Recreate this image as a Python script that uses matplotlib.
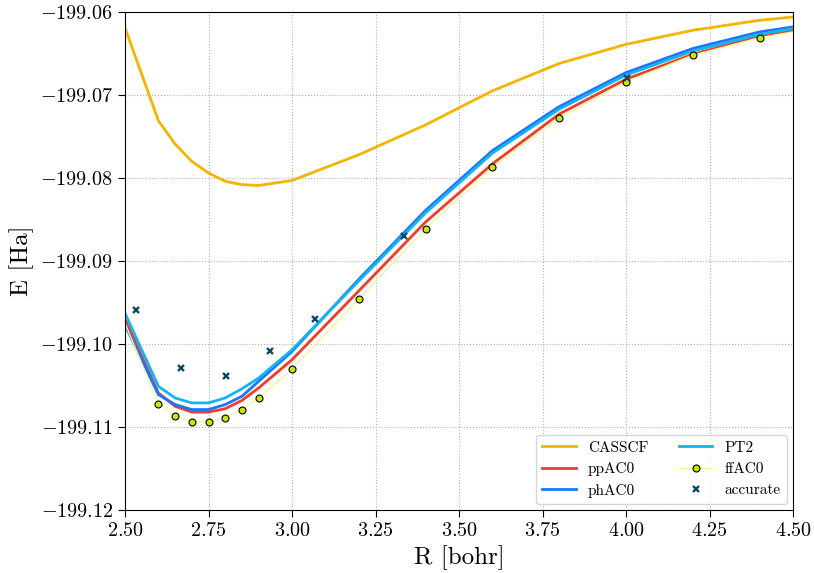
import numpy as np
import matplotlib
matplotlib.use("Agg")
import matplotlib.pyplot as plt

plt.rcParams['font.family'] = 'serif'
plt.rcParams['font.serif'] = ['cmr10']
plt.rcParams['mathtext.fontset'] = 'cm'
plt.rcParams['axes.formatter.use_mathtext'] = True

## bond lengths [bohr]
R = [2.5, 2.6, 2.65, 2.7, 2.75, 2.8, 2.85, 2.9, 3.0, 3.2, 3.4, 3.6, 3.8, 4.0, 4.2, 4.4, 4.5]

casscf = [-199.0619, -199.0731, -199.0759, -199.0780, -199.0794, -199.0804, -199.0808, -199.0809,
          -199.0803, -199.0772, -199.0736, -199.0695, -199.0662, -199.0639, -199.0622, -199.0610, -199.0606]
ppac0 = [-199.0970, -199.1059, -199.1075, -199.1082, -199.1082, -199.1078, -199.1068, -199.1053,
         -199.1019, -199.0936, -199.0853, -199.0783, -199.0723, -199.0681, -199.0651, -199.0629, -199.0622]
phac0 = [-199.0977, -199.1061, -199.1073, -199.1079, -199.1079, -199.1073, -199.1063, -199.1045,
         -199.1009, -199.0922, -199.0839, -199.0767, -199.0714, -199.0673, -199.0644, -199.0624, -199.0618]
pt2 = [-199.0963, -199.1051, -199.1065, -199.1071, -199.1071, -199.1065, -199.1054, -199.1041,
       -199.1007, -199.0924, -199.0842, -199.0770, -199.0717, -199.0676, -199.0647, -199.0627, -199.0620]
ffac0 = [-199.0975, -199.1072, -199.1087, -199.1094, -199.1094, -199.1089, -199.1079, -199.1065,
         -199.1030, -199.0946, -199.0861, -199.0787, -199.0728, -199.0684, -199.0652, -199.0631, -199.0624]

R_acc = [2.534, 2.668, 2.801, 2.935, 3.069, 3.336, 4.003]
acc = [-199.0959, -199.1029, -199.1039, -199.1009, -199.0970, -199.0870, -199.0679]

fig = plt.figure(figsize=(8.14, 5.73), dpi=100)
ax = fig.add_axes([125/814, 1 - 510/573, 668/814, 498/573])

ax.plot(R, casscf, color='#f5b400', lw=2, label='CASSCF')
ax.plot(R, ppac0, color='#f03c28', lw=2, label='ppAC0')
ax.plot(R, phac0, color='#1a75ff', lw=2, label='phAC0')
ax.plot(R, pt2, color='#14b4f0', lw=2, label='PT2')
ax.plot(R, ffac0, color='#f2f7a0', lw=1, marker='o', ms=5, mfc='#c8e600', mec='k', mew=0.8,
        markevery=slice(1, -1), label='ffAC0')
ax.plot(R_acc, acc, ls='none', marker='x', ms=5, mew=1.7, color='#0b4a60', label='accurate')

ax.set_xlim(2.5, 4.5)
ax.set_ylim(-199.12, -199.06)
ax.ticklabel_format(useOffset=False)
ax.yaxis.set_major_formatter(matplotlib.ticker.FormatStrFormatter('$%.2f$'))
ax.xaxis.set_major_formatter(matplotlib.ticker.FormatStrFormatter('$%.2f$'))
ax.tick_params(labelsize=14.5, direction='out', length=5)
ax.grid(True, ls=':', color='#b0b0b0', lw=0.8)

ax.set_xlabel('R [bohr]', fontsize=18)
ax.set_ylabel('E [Ha]', fontsize=18)

ax.legend(loc='lower right', ncol=2, fontsize=11, handlelength=2.2, columnspacing=2.0,
          borderaxespad=0.4, framealpha=0.8)

fig.savefig('out.png', dpi=100)
